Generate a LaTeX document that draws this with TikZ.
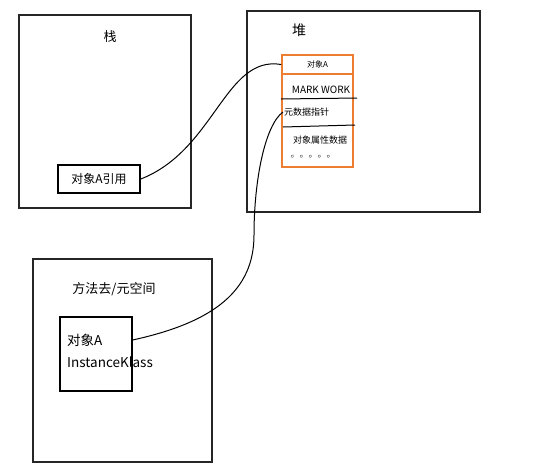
\documentclass[tikz,border=0pt]{standalone}
\usepackage{fontspec}
\newfontfamily\cjk{Noto Sans CJK SC}
\usepackage{xcolor}
\usepackage{tikz}
\usetikzlibrary{calc}
\definecolor{objorange}{RGB}{237,125,49}

\begin{document}
\begin{tikzpicture}[x=1pt,y=-1pt,
  every node/.style={inner sep=0pt},
  title/.style={font=\cjk\fontsize{13}{15}\selectfont},
  small/.style={font=\cjk\fontsize{9}{11}\selectfont},
  area/.style={draw=black!85, line width=1.2pt}]
\useasboundingbox (0,0) rectangle (552,472);
% stack, heap, method area
\draw[area](19,15) rectangle (191,208);
\draw[area,line width=1.6pt](247,11) rectangle (480,212);
\draw[area](33,259) rectangle (212,462);
\node[title] (stacklbl) at (110,37) {栈};
\node[title,font=\cjk\fontsize{14}{16}\selectfont] (heaplbl) at (299,30) {堆};
\node[title] (methodlbl) at (114,289) {方法去/元空间};

\node[draw,line width=1.6pt,minimum width=82pt,minimum height=28pt,
      font=\cjk\fontsize{12}{14}\selectfont] (ref) at (99,179) {对象A引用};

% object in heap
\node[draw=objorange,line width=1.5pt,minimum width=71pt,minimum height=112pt]
     (obj) at (317.5,111) {};
\node[draw=objorange,line width=1.5pt,minimum width=71pt,minimum height=19pt,
      font=\cjk\fontsize{8}{10}\selectfont] (objA) at (317.5,64.5) {对象A};
\node[small,font=\cjk\fontsize{10}{12}\selectfont] (mark) at (321,90) {MARK WORK};
\node[small,anchor=west,inner sep=1pt] (ptr) at (283,112) {元数据指针};
\node[small] (fields) at (320,140) {对象属性数据};
\node[small,text=black!85] (dots) at (313,157) {。。。。。};
\draw[line width=1pt](281,99)-- (357,98);
\draw[line width=1pt](283,127)-- (355,125);

% class meta
\node[draw,line width=1.3pt,minimum width=72pt,minimum height=74pt] (klass) at (96,354) {};
\node[anchor=west,font=\cjk\fontsize{13.5}{16}\selectfont] (klassA) at (67,340) {对象A};
\node[anchor=west,font=\cjk\fontsize{13.5}{16}\selectfont] (klassname) at (67,362) {InstanceKlass};

\draw[line width=1pt](ref.east) .. controls (215,150) and (225,55) .. (objA.west);
\draw[line width=1pt](klass.east |- klassA) .. controls (215,322) and (254,290) .. (254,235)
      .. controls (254,180) and (265,125) .. (ptr.west);
\end{tikzpicture}
\end{document}
